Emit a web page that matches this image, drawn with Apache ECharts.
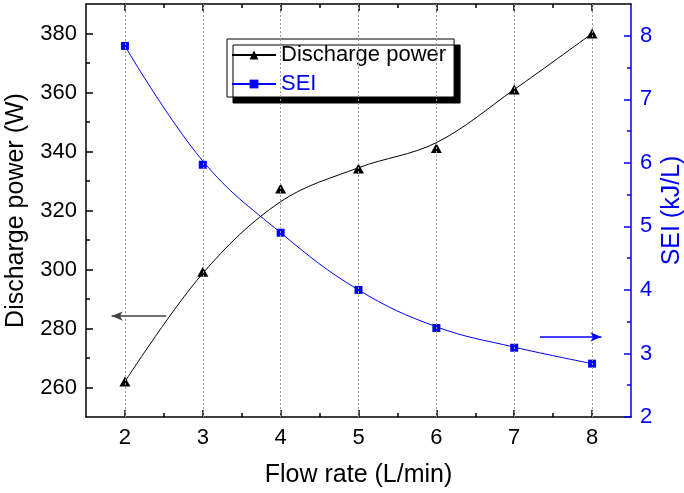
<!DOCTYPE html>
<html>
<head>
<meta charset="utf-8">
<script src="https://cdn.jsdelivr.net/npm/echarts@6/dist/echarts.min.js"></script>
<style>html,body{margin:0;padding:0;background:#fff}#c{width:684px;height:493px}</style>
</head>
<body>
<div id="c"></div>
<script>
// Data
var flowRate = [2, 3, 4, 5, 6, 7, 8];
var powerPts = [262, 299.2, 327.5, 334.2, 341.2, 361, 380];
var powerFit = [262, 298.7, 323, 334.5, 343, 361, 380];
var seiPts = [7.84, 5.97, 4.90, 4.00, 3.40, 3.09, 2.84];
var seiFit = [7.84, 6.03, 4.90, 4.00, 3.42, 3.10, 2.84];
var xTicks = [2, 3, 4, 5, 6, 7, 8];
var xMinorTicks = [2.5, 3.5, 4.5, 5.5, 6.5, 7.5];
var powerTicks = [260, 280, 300, 320, 340, 360, 380];
var powerMinorTicks = [270, 290, 310, 330, 350, 370];
var seiTicks = [2, 3, 4, 5, 6, 7, 8];
var seiMinorTicks = [2.5, 3.5, 4.5, 5.5, 6.5, 7.5];
var leftArrow = [[2.53, 284.2], [1.83, 284.2]];
var rightArrow = [[7.33, 3.26], [8.12, 3.26]];

var FONT = "'Liberation Sans', Arial, sans-serif";
var BLUE = '#0000ff';

function pair(a) { return a.map(function (v, i) { return [flowRate[i], v]; }); }

function majorX(pos, showLabel, name) {
  return {
    type: 'value', position: pos, min: 1.5, max: 8.5,
    name: name || '', nameLocation: 'middle', nameGap: 46, nameMoveOverlap: false,
    nameTextStyle: { fontSize: 25, color: '#000', fontFamily: FONT },
    axisLine: { show: true, onZero: false, lineStyle: { color: '#000', width: 1.5 } },
    axisTick: { show: true, inside: true, length: 7, customValues: xTicks, lineStyle: { color: '#000', width: 1.5 } },
    axisLabel: { show: showLabel, customValues: xTicks, margin: 10, fontSize: 22, color: '#000', fontFamily: FONT },
    splitLine: { show: false }
  };
}
function minorX(pos) {
  return {
    type: 'value', position: pos, min: 1.5, max: 8.5,
    axisLine: { show: false, onZero: false },
    axisTick: { show: true, inside: true, length: 4, customValues: xMinorTicks, lineStyle: { color: '#000', width: 1.5 } },
    axisLabel: { show: false }, splitLine: { show: false }
  };
}

var option = {
  animation: false,
  backgroundColor: '#fff',
  textStyle: { fontFamily: FONT },
  grid: { left: 86, right: 53, top: 4, bottom: 76, containLabel: false, outerBoundsMode: 'none' },
  legend: {
    orient: 'vertical', left: 227, top: 39,
    data: [
      { name: 'Discharge power', textStyle: { color: '#000' } },
      { name: 'SEI', textStyle: { color: BLUE } }
    ],
    itemWidth: 44, itemHeight: 11, itemGap: 7,
    padding: [5, 8, 2, 4],
    textStyle: { fontSize: 22, fontFamily: FONT, padding: [0, 0, 0, 0] },
    backgroundColor: '#fff', borderColor: '#000', borderWidth: 1,
    shadowColor: '#000', shadowBlur: 0, shadowOffsetX: 6, shadowOffsetY: 6
  },
  xAxis: [
    majorX('bottom', true, 'Flow rate (L/min)'),
    minorX('bottom'),
    majorX('top', false),
    minorX('top')
  ],
  yAxis: [
    {
      type: 'value', position: 'left', min: 250, max: 390,
      name: 'Discharge power (W)', nameLocation: 'middle', nameGap: 57, nameMoveOverlap: false,
      nameTextStyle: { fontSize: 25, color: '#000', fontFamily: FONT },
      axisLine: { show: true, onZero: false, lineStyle: { color: '#000', width: 1.5 } },
      axisTick: { show: true, inside: true, length: 7, customValues: powerTicks, lineStyle: { color: '#000', width: 1.5 } },
      axisLabel: { customValues: powerTicks, margin: 9, fontSize: 22, color: '#000', fontFamily: FONT },
      splitLine: { show: false }
    },
    {
      type: 'value', position: 'left', min: 250, max: 390,
      axisLine: { show: false, onZero: false },
      axisTick: { show: true, inside: true, length: 4, customValues: powerMinorTicks, lineStyle: { color: '#000', width: 1.5 } },
      axisLabel: { show: false }, splitLine: { show: false }
    },
    {
      type: 'value', position: 'right', min: 2, max: 8.5,
      name: 'SEI (kJ/L)', nameLocation: 'middle', nameGap: 29, nameMoveOverlap: false,
      nameTextStyle: { fontSize: 25, color: BLUE, fontFamily: FONT },
      axisLine: { show: true, onZero: false, lineStyle: { color: BLUE, width: 1.5 } },
      axisTick: { show: true, inside: true, length: 7, customValues: seiTicks, lineStyle: { color: BLUE, width: 1.5 } },
      axisLabel: { customValues: seiTicks, margin: 9, fontSize: 22, color: BLUE, fontFamily: FONT },
      splitLine: { show: false }
    },
    {
      type: 'value', position: 'right', min: 2, max: 8.5,
      axisLine: { show: false, onZero: false },
      axisTick: { show: true, inside: true, length: 4, customValues: seiMinorTicks, lineStyle: { color: BLUE, width: 1.5 } },
      axisLabel: { show: false }, splitLine: { show: false }
    }
  ],
  series: [
    {
      name: '_grid', type: 'line', xAxisIndex: 0, yAxisIndex: 0, z: 1,
      data: pair(powerFit), showSymbol: false, silent: true,
      lineStyle: { opacity: 0 },
      markLine: {
        silent: true, symbol: 'none', animation: false,
        label: { show: false },
        lineStyle: { color: '#999', width: 1, type: [2, 2] },
        data: xTicks.map(function (v) { return { xAxis: v }; })
      }
    },
    {
      name: 'Discharge power', type: 'line', xAxisIndex: 0, yAxisIndex: 0, z: 3,
      data: pair(powerFit), smooth: 0.35, symbol: 'triangle', showSymbol: false,
      color: '#000', lineStyle: { color: '#000', width: 1 },
      itemStyle: { color: '#000' },
      markLine: {
        silent: true, symbol: ['none', 'arrow'], symbolSize: [7, 11], animation: false,
        label: { show: false },
        lineStyle: { color: '#444', width: 1.5, type: 'solid' },
        data: [[{ coord: leftArrow[0] }, { coord: leftArrow[1] }]]
      }
    },
    {
      name: 'SEI', type: 'line', xAxisIndex: 0, yAxisIndex: 2, z: 3,
      data: pair(seiFit), smooth: 0.4, symbol: 'rect', showSymbol: false,
      color: BLUE, lineStyle: { color: BLUE, width: 1 },
      itemStyle: { color: BLUE },
      markLine: {
        silent: true, symbol: ['none', 'arrow'], symbolSize: [7, 11], animation: false,
        label: { show: false },
        lineStyle: { color: BLUE, width: 1.5, type: 'solid' },
        data: [[{ coord: rightArrow[0] }, { coord: rightArrow[1] }]]
      }
    },
    {
      name: 'Discharge power pts', type: 'scatter', xAxisIndex: 0, yAxisIndex: 0, z: 4,
      data: pair(powerPts), symbol: 'triangle', symbolSize: [11, 10],
      itemStyle: { color: '#000', opacity: 1, borderWidth: 0 }
    },
    {
      name: 'SEI pts', type: 'scatter', xAxisIndex: 0, yAxisIndex: 2, z: 4,
      data: pair(seiPts), symbol: 'rect', symbolSize: 8,
      itemStyle: { color: BLUE, opacity: 1, borderWidth: 0 }
    }
  ]
};
var chart = echarts.init(document.getElementById('c'), null, { renderer: 'canvas' });
chart.setOption(option);
</script>
</body>
</html>
